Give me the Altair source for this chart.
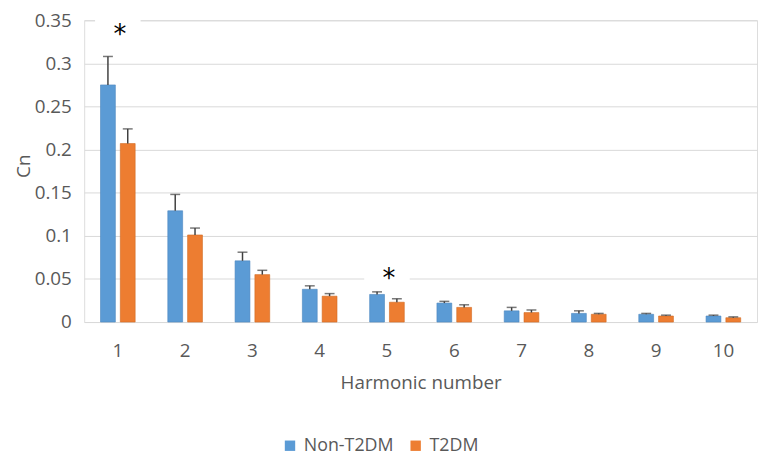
import altair as alt
import pandas as pd

harmonics = ["1", "2", "3", "4", "5", "6", "7", "8", "9", "10"]
groups = ["Non-T2DM", "T2DM"]
non_t2dm = [0.275, 0.129, 0.071, 0.038, 0.032, 0.022, 0.013, 0.010, 0.009, 0.007]
non_t2dm_sd = [0.033, 0.019, 0.010, 0.004, 0.003, 0.002, 0.004, 0.003, 0.001, 0.001]
t2dm = [0.207, 0.101, 0.055, 0.030, 0.023, 0.017, 0.011, 0.009, 0.007, 0.005]
t2dm_sd = [0.017, 0.008, 0.005, 0.003, 0.004, 0.003, 0.003, 0.001, 0.001, 0.001]

star_harmonics = ["1", "5"]
star_y = [0.339, 0.056]
star_box_half = 0.012

rows = []
for i, h in enumerate(harmonics):
    rows.append({"h": h, "g": groups[0], "v": non_t2dm[i], "top": non_t2dm[i] + non_t2dm_sd[i]})
    rows.append({"h": h, "g": groups[1], "v": t2dm[i], "top": t2dm[i] + t2dm_sd[i]})
df = pd.DataFrame(rows)

stars = pd.DataFrame({"h": star_harmonics, "y": star_y})
stars["y0"] = stars["y"] - star_box_half
stars["y1"] = stars["y"] + star_box_half

FONT = "Open Sans"
TXT = "#595959"

x_enc = alt.X(
    "h:N",
    sort=harmonics,
    scale=alt.Scale(paddingInner=0.485, paddingOuter=0.2426),
    axis=alt.Axis(
        title="Harmonic number",
        labelAngle=0,
        ticks=False,
        tickSize=0,
        domain=False,
        grid=False,
        labelPadding=20,
        labelFontSize=19,
        labelColor=TXT,
        labelFont=FONT,
        titleFont=FONT,
        titleFontSize=19,
        titleFontWeight="normal",
        titleColor=TXT,
        titleY=52,
        titleBaseline="top",
    ),
)
xo_enc = alt.XOffset("g:N", sort=groups, scale=alt.Scale(paddingInner=0.25, paddingOuter=0))
y_scale = alt.Scale(domain=[0, 0.35], nice=False)

bars = alt.Chart(df).mark_bar(strokeWidth=1, strokeOpacity=0.6).encode(
    x=x_enc,
    xOffset=xo_enc,
    y=alt.Y(
        "v:Q",
        scale=y_scale,
        axis=alt.Axis(
            title="Cn",
            values=[0, 0.05, 0.1, 0.15, 0.2, 0.25, 0.3, 0.35],
            format=".2~f",
            ticks=False,
            domain=False,
            gridColor="#D9D9D9",
            gridWidth=1,
            labelPadding=13,
            labelFontSize=19,
            labelColor=TXT,
            labelFont=FONT,
            titleFont=FONT,
            titleFontSize=19,
            titleFontWeight="normal",
            titleColor=TXT,
            titleX=-61,
            titleY=147,
            titleBaseline="middle",
        ),
    ),
    color=alt.Color(
        "g:N",
        sort=groups,
        scale=alt.Scale(domain=groups, range=["#5B9BD5", "#ED7D31"]),
        legend=alt.Legend(
            title=None,
            orient="none",
            legendX=199,
            legendY=421,
            direction="horizontal",
            symbolType="square",
            symbolSize=110,
            symbolStrokeWidth=0,
            labelFont=FONT,
            labelFontSize=18,
            labelColor=TXT,
            labelOffset=5,
            columnPadding=13,
        ),
    ),
    stroke=alt.Stroke(
        "g:N", sort=groups, scale=alt.Scale(domain=groups, range=["#4A86BF", "#D26A22"]), legend=None
    ),
)

err = alt.Chart(df).mark_rule(color="#404040", strokeWidth=1.5).encode(
    x=alt.X("h:N", sort=harmonics),
    xOffset=alt.XOffset("g:N", sort=groups),
    y="v:Q",
    y2="top:Q",
)

caps = alt.Chart(df).mark_tick(color="#404040", thickness=1.5, size=10, orient="horizontal").encode(
    x=alt.X("h:N", sort=harmonics),
    xOffset=alt.XOffset("g:N", sort=groups),
    y="top:Q",
)

boxes = alt.Chart(stars).mark_bar(color="white", width=46).encode(
    x=alt.X("h:N", sort=harmonics),
    y="y0:Q",
    y2="y1:Q",
)

star_text = alt.Chart(stars).mark_text(
    text="*", fontSize=26, font="DejaVu Sans", color="black", baseline="middle", dy=5, dx=2
).encode(
    x=alt.X("h:N", sort=harmonics),
    y="y:Q",
)

chart = (
    alt.layer(bars, boxes, err, caps, star_text)
    .properties(
        width=680,
        height=305,
        autosize=alt.AutoSizeParams(type="none"),
        padding={"left": 77, "top": 10, "right": 3, "bottom": 133},
    )
    .configure_view(stroke=None)
    .configure(background="white")
)

chart.save("out.html", embed_options={"renderer": "svg", "actions": False})
